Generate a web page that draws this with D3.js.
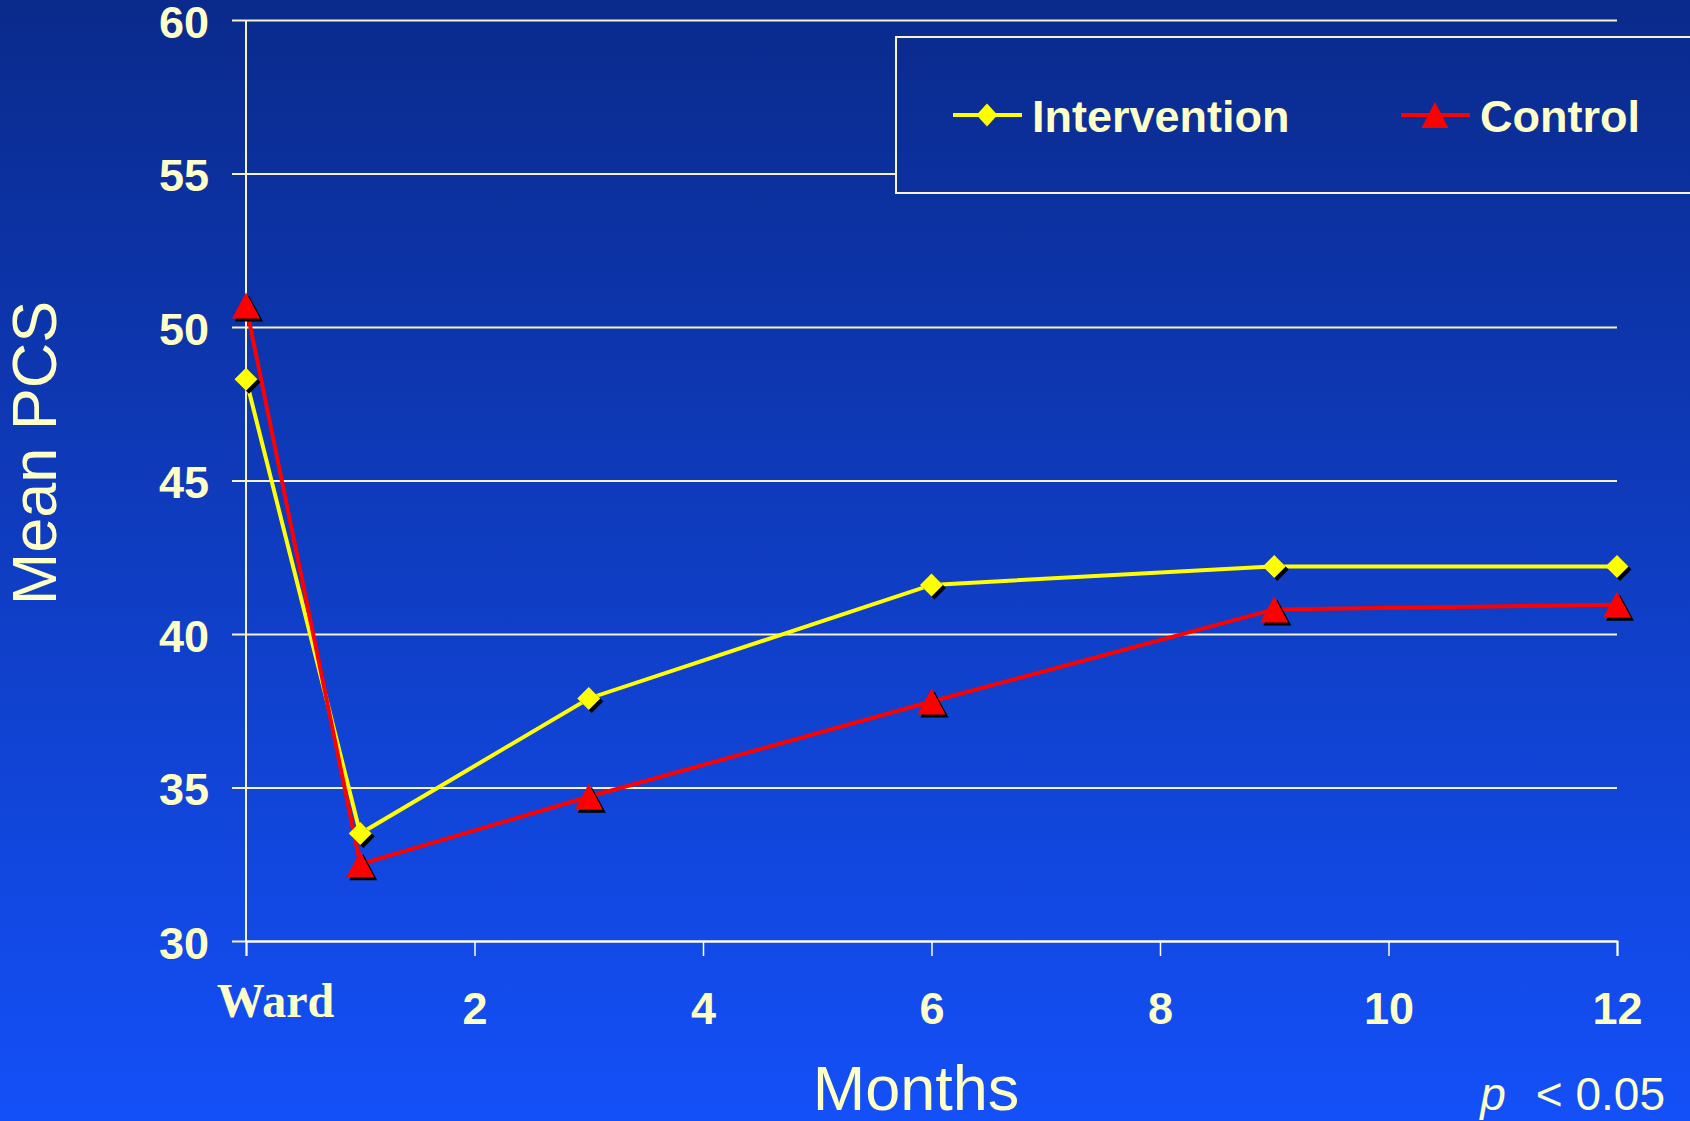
<!DOCTYPE html>
<html>
<head>
<meta charset="utf-8">
<script src="https://cdn.jsdelivr.net/npm/d3@7"></script>
<style>
  body { margin: 0; background: #0a2a8c; }
  svg { display: block; }
</style>
</head>
<body>
<div id="chart"></div>
<script>
// Data
var months = [0, 1, 3, 6, 9, 12];
var intervention = [48.3, 33.5, 37.9, 41.6, 42.2, 42.2];
var control = [50.7, 32.5, 34.7, 37.8, 40.8, 40.95];
var xTicks = [0, 2, 4, 6, 8, 10, 12];
var xTickLabels = ["Ward", "2", "4", "6", "8", "10", "12"];
var yTicks = [30, 35, 40, 45, 50, 55, 60];
var seriesNames = ["Intervention", "Control"];

var svgWidth = 1690;
var svgHeight = 1121;

var margin = { top: 20, bottom: 180, right: 73, left: 246 };
var chartWidth = svgWidth - margin.left - margin.right;
var chartHeight = svgHeight - margin.top - margin.bottom;

var textColor = "#ffffc8";
var gridColor = "#f4f4c8";

var svg = d3.select("#chart").append("svg")
  .attr("width", svgWidth)
  .attr("height", svgHeight);

// background gradient
var defs = svg.append("defs");
var grad = defs.append("linearGradient")
  .attr("id", "bg")
  .attr("gradientUnits", "userSpaceOnUse")
  .attr("x1", 0).attr("y1", 0)
  .attr("x2", 0).attr("y2", svgHeight);
grad.append("stop").attr("offset", "0%").attr("stop-color", "#0a2a8c");
grad.append("stop").attr("offset", "100%").attr("stop-color", "#1450f8");

svg.append("rect")
  .attr("width", svgWidth)
  .attr("height", svgHeight)
  .attr("fill", "url(#bg)");

var chartGroup = svg.append("g")
  .attr("transform", `translate(${margin.left}, ${margin.top})`);

// scales
var xScale = d3.scaleLinear().domain([0, 12]).range([0, chartWidth]);
var yScale = d3.scaleLinear().domain([30, 60]).range([chartHeight, 0]);

// horizontal gridlines with left tick stubs
var yAxis = d3.axisLeft(yScale)
  .tickValues(yTicks)
  .tickSize(-chartWidth - 14)
  .tickFormat(d3.format("d"))
  .tickPadding(23);

var yAxisG = chartGroup.append("g")
  .attr("transform", "translate(-14, 0)")
  .call(yAxis);
yAxisG.select(".domain").remove();
yAxisG.selectAll(".tick line")
  .attr("x1", 14)
  .attr("x2", chartWidth + 14)
  .attr("stroke", gridColor)
  .attr("stroke-width", 2);
yAxisG.selectAll(".tick")
  .append("line")
  .attr("x1", 0).attr("x2", 14)
  .attr("stroke", gridColor)
  .attr("stroke-width", 2);
yAxisG.selectAll(".tick text")
  .attr("fill", textColor)
  .style("font-family", "Liberation Sans, Arial, sans-serif")
  .style("font-size", "45px")
  .style("font-weight", "bold")
  .attr("dy", "0.38em");

// vertical y axis line
chartGroup.append("line")
  .attr("x1", 0).attr("x2", 0)
  .attr("y1", 0).attr("y2", chartHeight)
  .attr("stroke", gridColor)
  .attr("stroke-width", 2);

// x axis
var xAxis = d3.axisBottom(xScale)
  .tickValues(xTicks)
  .tickSize(15)
  .tickFormat(function(d, i) { return xTickLabels[i]; })
  .tickPadding(36);

var xAxisG = chartGroup.append("g")
  .attr("transform", `translate(0, ${chartHeight})`)
  .call(xAxis);
xAxisG.select(".domain")
  .attr("stroke", "#ffffff")
  .attr("stroke-width", 2);
xAxisG.selectAll(".tick line")
  .attr("stroke", "#ffffff")
  .attr("stroke-width", 1.5);
xAxisG.selectAll(".tick text")
  .attr("fill", textColor)
  .style("font-family", "Liberation Sans, Arial, sans-serif")
  .style("font-size", "45px")
  .style("font-weight", "bold")
  .attr("dy", "0.72em");
// "Ward" is set in a serif face and sits right of its tick
xAxisG.selectAll(".tick text")
  .filter(function(d) { return d === 0; })
  .style("font-family", "Liberation Serif, Times New Roman, serif")
  .style("font-size", "48px")
  .attr("x", 29)
  .attr("dy", "0.52em");

// legend box (drawn over the gridlines)
var legend = svg.append("g");
legend.append("rect")
  .attr("x", 896)
  .attr("y", 37)
  .attr("width", 900)
  .attr("height", 156)
  .attr("fill", "url(#bg)")
  .attr("stroke", gridColor)
  .attr("stroke-width", 2);

// series lines
var line = d3.line()
  .x(function(d) { return xScale(d[0]); })
  .y(function(d) { return yScale(d[1]); });

var interData = months.map(function(m, i) { return [m, intervention[i]]; });
var ctrlData = months.map(function(m, i) { return [m, control[i]]; });

chartGroup.append("path")
  .datum(interData)
  .attr("d", line)
  .attr("fill", "none")
  .attr("stroke", "#ffff00")
  .attr("stroke-width", 4);

chartGroup.append("path")
  .datum(ctrlData)
  .attr("d", line)
  .attr("fill", "none")
  .attr("stroke", "#ff0000")
  .attr("stroke-width", 4);

// marker shapes
function diamondPath(w, h) {
  return `M0,${-h / 2}L${w / 2},0L0,${h / 2}L${-w / 2},0Z`;
}
function trianglePath(w, h) {
  return `M0,${-h / 2}L${w / 2},${h / 2}L${-w / 2},${h / 2}Z`;
}

// diamonds with shadow
chartGroup.selectAll(".dShadow")
  .data(interData)
  .enter()
  .append("path")
  .attr("class", "dShadow")
  .attr("d", diamondPath(23, 23))
  .attr("fill", "#000")
  .attr("transform", d => `translate(${xScale(d[0]) + 3}, ${yScale(d[1]) + 3})`);
chartGroup.selectAll(".diamond")
  .data(interData)
  .enter()
  .append("path")
  .attr("class", "diamond")
  .attr("d", diamondPath(23, 23))
  .attr("fill", "#ffff00")
  .attr("transform", d => `translate(${xScale(d[0])}, ${yScale(d[1])})`);

// triangles with shadow
chartGroup.selectAll(".tShadow")
  .data(ctrlData)
  .enter()
  .append("path")
  .attr("class", "tShadow")
  .attr("d", trianglePath(28, 26))
  .attr("fill", "#000")
  .attr("transform", d => `translate(${xScale(d[0]) + 3}, ${yScale(d[1]) + 3})`);
chartGroup.selectAll(".triangle")
  .data(ctrlData)
  .enter()
  .append("path")
  .attr("class", "triangle")
  .attr("d", trianglePath(28, 26))
  .attr("fill", "#ff0000")
  .attr("transform", d => `translate(${xScale(d[0])}, ${yScale(d[1])})`);

// legend entries
var legendItems = [
  { name: seriesNames[0], color: "#ffff00", shape: diamondPath(21, 23), x: 953 },
  { name: seriesNames[1], color: "#ff0000", shape: trianglePath(27, 26), x: 1401 }
];
legendItems.forEach(function(item) {
  var g = legend.append("g").attr("transform", `translate(${item.x}, 115)`);
  g.append("line")
    .attr("x1", 0).attr("x2", 69)
    .attr("stroke", item.color)
    .attr("stroke-width", 4);
  g.append("path")
    .attr("d", item.shape)
    .attr("fill", item.color)
    .attr("transform", "translate(34, 0)");
  g.append("text")
    .attr("x", 79)
    .attr("y", 17)
    .attr("fill", textColor)
    .style("font-family", "Liberation Sans, Arial, sans-serif")
    .style("font-size", "45px")
    .style("font-weight", "bold")
    .text(item.name);
});

// axis titles
svg.append("text")
  .attr("transform", "translate(56, 453) rotate(-90)")
  .attr("text-anchor", "middle")
  .attr("fill", textColor)
  .style("font-family", "Liberation Sans, Arial, sans-serif")
  .style("font-size", "63px")
  .text("Mean PCS");

svg.append("text")
  .attr("x", 916)
  .attr("y", 1110)
  .attr("text-anchor", "middle")
  .attr("fill", textColor)
  .style("font-family", "Liberation Sans, Arial, sans-serif")
  .style("font-size", "63px")
  .text("Months");

// significance note
var pText = svg.append("text")
  .attr("x", 1665)
  .attr("y", 1110)
  .attr("text-anchor", "end")
  .attr("fill", textColor)
  .style("font-family", "Liberation Sans, Arial, sans-serif")
  .style("font-size", "46px");
pText.append("tspan").style("font-style", "italic").text("p");
pText.append("tspan").attr("dx", 30).text("< 0.05");
</script>
</body>
</html>
